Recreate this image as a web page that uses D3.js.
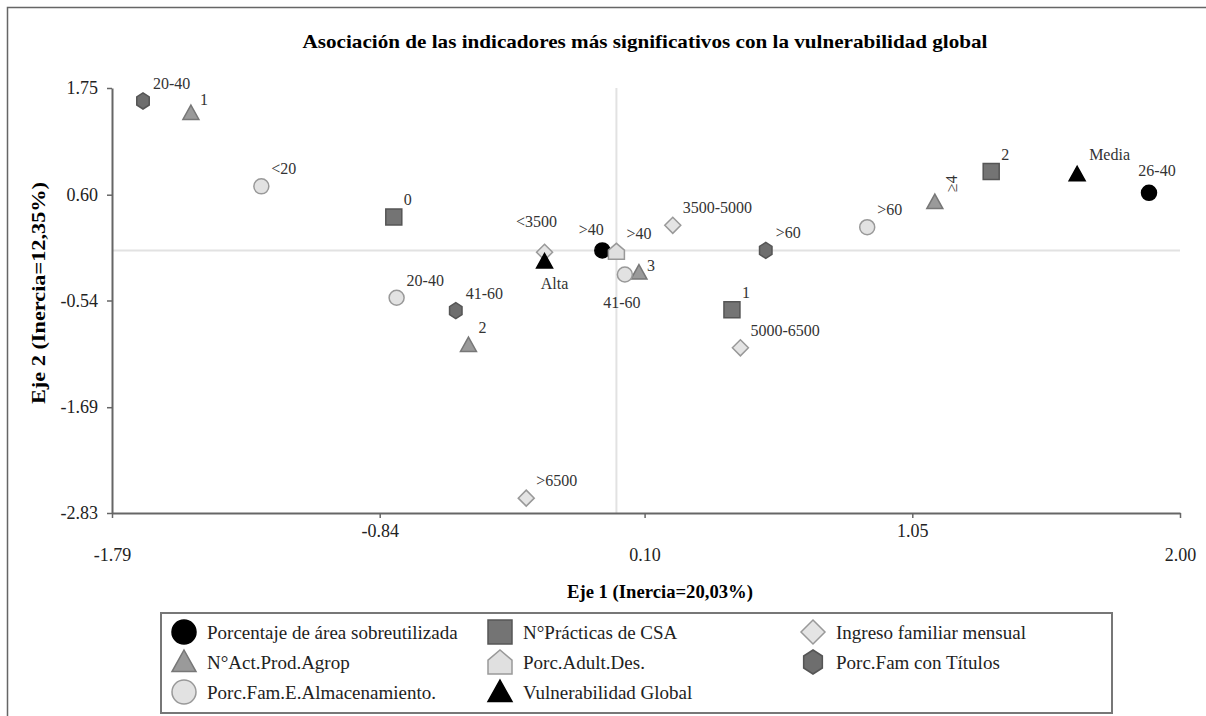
<!DOCTYPE html>
<html>
<head>
<meta charset="utf-8">
<script src="https://cdn.jsdelivr.net/npm/d3@7"></script>
<style>
  body { margin: 0; background: #fff; }
  svg text { font-family: "Liberation Serif", "Times New Roman", "DejaVu Serif", serif; }
</style>
</head>
<body>
<div id="chart"></div>
<script>
// tick labels of both axes
let xTicks = [-1.79, -0.84, 0.10, 1.05, 2.00];
let yTicks = [1.75, 0.60, -0.54, -1.69, -2.83];

// series names (legend order)
let seriesNames = [
  "Porcentaje de área sobreutilizada",
  "N°Prácticas de CSA",
  "Ingreso familiar mensual",
  "N°Act.Prod.Agrop",
  "Porc.Adult.Des.",
  "Porc.Fam con Títulos",
  "Porc.Fam.E.Almacenamiento.",
  "Vulnerabilidad Global"
];

// category points per series: [label, eje1, eje2]
let sobreutilizada = [[">40", -0.05, 0.00], ["26-40", 1.89, 0.62]];
let practicasCSA = [["0", -0.79, 0.36], ["1", 0.41, -0.64], ["2", 1.33, 0.85]];
let ingreso = [["<3500", -0.255, -0.02], ["3500-5000", 0.20, 0.27], ["5000-6500", 0.44, -1.05], [">6500", -0.32, -2.67]];
let actProd = [["1", -1.51, 1.48], ["2", -0.525, -1.02], ["3", 0.08, -0.24], ["≥4", 1.13, 0.52]];
let adultDes = [[">40", 0.00, -0.01]];
let famTitulos = [["20-40", -1.68, 1.61], ["41-60", -0.57, -0.65], [">60", 0.53, 0.00]];
let almacenamiento = [["<20", -1.26, 0.69], ["20-40", -0.78, -0.51], ["41-60", 0.03, -0.26], [">60", 0.89, 0.25]];
let vulnerabilidad = [["Alta", -0.255, -0.12], ["Media", 1.635, 0.82]];

let seriesData = [sobreutilizada, practicasCSA, ingreso, actProd, adultDes, famTitulos, almacenamiento, vulnerabilidad];

let width = 1206, height = 716;

// marker look per series
let styles = [
  {shape: "circle", fill: "#000", stroke: "#000"},
  {shape: "square", fill: "#747474", stroke: "#555"},
  {shape: "diamond", fill: "#e4e4e4", stroke: "#999"},
  {shape: "triangle", fill: "#9a9a9a", stroke: "#777"},
  {shape: "house", fill: "#e0e0e0", stroke: "#999"},
  {shape: "hexagon", fill: "#6e6e6e", stroke: "#555"},
  {shape: "circle", fill: "#e2e2e2", stroke: "#999"},
  {shape: "triangle", fill: "#000", stroke: "#000"}
];

// label placement tweaks (dx, dy, anchor) keyed by series index and label
let labelTweak = {
  "0:>40": [-11, -15, "middle"],
  "0:26-40": [8, -17, "middle"],
  "2:<3500": [-8, -25, "middle"],
  "3:3": [8, -2, "start"],
  "3:1": [9, -8, "start"],
  "6:41-60": [-3, 33, "middle"],
  "7:Alta": [10, 27, "middle"],
  "7:Media": [12, -14, "start"]
};

function shapePath(shape, s) {
  // s = half size
  if (shape === "circle") return d3.symbol(d3.symbolCircle, Math.PI * s * s)();
  if (shape === "square") return `M${-s},${-s}H${s}V${s}H${-s}Z`;
  if (shape === "diamond") return `M0,${-s}L${s},0L0,${s}L${-s},0Z`;
  if (shape === "triangle") return `M0,${-s}L${s},${s * 0.8}L${-s},${s * 0.8}Z`;
  if (shape === "house") return `M${-s},${s}H${s}V${-s * 0.15}L0,${-s}L${-s},${-s * 0.15}Z`;
  if (shape === "hexagon") {
    let pts = d3.range(6).map(i => {
      let a = Math.PI / 3 * i - Math.PI / 2;
      return [s * 0.9 * Math.cos(a), s * Math.sin(a)];
    });
    return "M" + pts.join("L") + "Z";
  }
}

let x = d3.scaleLinear().domain([-1.79, 2.00]).range([112, 1180]);
let y = d3.scaleLinear().domain([-2.83, 1.75]).range([513, 88]);
let fmt = d => d.toFixed(2);

function chart() {
  const svg = d3.select("#chart").append("svg")
    .attr("width", width)
    .attr("height", height);

  // outer frame
  svg.append("rect")
    .attr("x", 7.5).attr("y", 7.5)
    .attr("width", 1220).attr("height", 730)
    .attr("fill", "none").attr("stroke", "#666").attr("stroke-width", 1.5);

  svg.append("text")
    .attr("x", 645).attr("y", 48)
    .attr("text-anchor", "middle")
    .attr("textLength", 685).attr("lengthAdjust", "spacingAndGlyphs")
    .style("font-size", "19px").style("font-weight", "bold")
    .text("Asociación de las indicadores más significativos con la vulnerabilidad global");

  // reference lines through origin
  svg.append("line")
    .attr("x1", x(0)).attr("x2", x(0))
    .attr("y1", y(1.75)).attr("y2", y(-2.83))
    .attr("stroke", "#e2e2e2").attr("stroke-width", 2);
  svg.append("line")
    .attr("x1", x(-1.79)).attr("x2", x(2.00))
    .attr("y1", y(0)).attr("y2", y(0))
    .attr("stroke", "#e2e2e2").attr("stroke-width", 2);

  // axes
  const xAxis = svg.append("g")
    .attr("transform", `translate(0,${y(-2.83)})`)
    .call(d3.axisBottom(x).tickValues(xTicks).tickSize(5).tickSizeOuter(0).tickFormat(fmt));
  xAxis.selectAll("text")
    .attr("dy", (d, i) => i % 2 ? "0.9em" : "2.2em")
    .style("font-size", "18px").attr("fill", "#222");

  const yAxis = svg.append("g")
    .attr("transform", `translate(${x(-1.79)},0)`)
    .call(d3.axisLeft(y).tickValues(yTicks).tickSize(5).tickSizeOuter(0).tickFormat(fmt));
  yAxis.selectAll("text")
    .style("font-size", "18px").attr("fill", "#222").attr("x", -14);

  svg.selectAll(".domain").attr("stroke", "#666").attr("stroke-width", 2);
  svg.selectAll(".tick line").attr("stroke", "#666").attr("stroke-width", 1.5);

  svg.append("text")
    .attr("x", 660).attr("y", 598)
    .attr("text-anchor", "middle")
    .attr("textLength", 186).attr("lengthAdjust", "spacingAndGlyphs")
    .style("font-size", "19px").style("font-weight", "bold")
    .text("Eje 1 (Inercia=20,03%)");

  svg.append("text")
    .attr("transform", `translate(45,293) rotate(-90)`)
    .attr("text-anchor", "middle")
    .attr("textLength", 222).attr("lengthAdjust", "spacingAndGlyphs")
    .style("font-size", "19px").style("font-weight", "bold")
    .text("Eje 2 (Inercia=12,35%)");

  // points
  seriesData.forEach((pts, si) => {
    const st = styles[si];
    const g = svg.append("g");
    g.selectAll("path")
      .data(pts)
      .enter().append("path")
        .attr("transform", d => `translate(${x(d[1])},${y(d[2])})`)
        .attr("d", shapePath(st.shape, st.shape === "circle" ? 7.5 : 8))
        .attr("fill", st.fill)
        .attr("stroke", st.stroke)
        .attr("stroke-width", 1.5);

    g.selectAll("text")
      .data(pts)
      .enter().append("text")
        .attr("transform", d => {
          const t = labelTweak[si + ":" + d[0]] || [10, -12, "start"];
          const px = x(d[1]) + t[0], py = y(d[2]) + t[1];
          return d[0] === "≥4" ? `translate(${px + 12},${py + 2}) rotate(-90)` : `translate(${px},${py})`;
        })
        .attr("text-anchor", d => (labelTweak[si + ":" + d[0]] || [0, 0, "start"])[2])
        .style("font-size", "16px")
        .attr("fill", "#333")
        .text(d => d[0]);
  });

  // legend
  svg.append("rect")
    .attr("x", 161).attr("y", 613)
    .attr("width", 951).attr("height", 100)
    .attr("fill", "#fff").attr("stroke", "#777").attr("stroke-width", 2);

  const cols = [184, 500, 813];
  const leg = svg.append("g").selectAll("g")
    .data(seriesNames)
    .enter().append("g")
      .attr("transform", (d, i) => `translate(${cols[i % 3]},${632 + Math.floor(i / 3) * 30})`);

  leg.append("path")
    .attr("d", (d, i) => shapePath(styles[i].shape, 12))
    .attr("fill", (d, i) => styles[i].fill)
    .attr("stroke", (d, i) => styles[i].stroke)
    .attr("stroke-width", 1.5);

  leg.append("text")
    .attr("x", 23).attr("dy", "0.35em")
    .style("font-size", "19px")
    .attr("fill", "#222")
    .text(d => d);

  return svg.node();
}

chart();
</script>
</body>
</html>
